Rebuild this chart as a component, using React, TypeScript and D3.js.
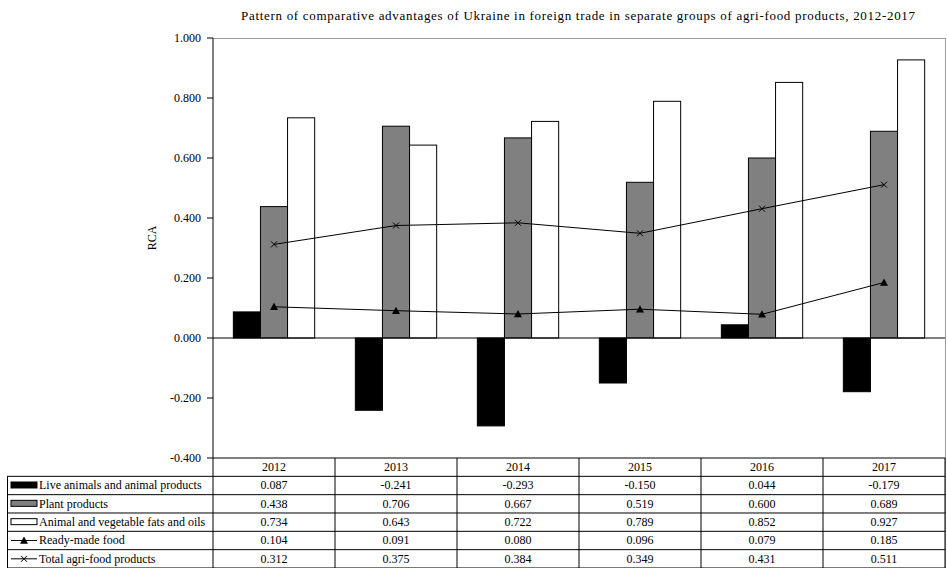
import React from "react";
import * as d3 from "d3";

const years = ["2012", "2013", "2014", "2015", "2016", "2017"];
const liveAnimals = [0.087, -0.241, -0.293, -0.15, 0.044, -0.179];
const plantProducts = [0.438, 0.706, 0.667, 0.519, 0.6, 0.689];
const fatsOils = [0.734, 0.643, 0.722, 0.789, 0.852, 0.927];
const readyMade = [0.104, 0.091, 0.08, 0.096, 0.079, 0.185];
const totalAgri = [0.312, 0.375, 0.384, 0.349, 0.431, 0.511];
const yTicks = [-0.4, -0.2, 0, 0.2, 0.4, 0.6, 0.8, 1.0];

const seriesNames = [
  "Live animals and animal products",
  "Plant products",
  "Animal and vegetable fats and oils",
  "Ready-made food",
  "Total agri-food products",
];

const W = 947;
const H = 568;
const FONT = "'Liberation Serif', 'DejaVu Serif', serif";
const fmt = (v: number) => d3.format(".3f")(v).replace("\u2212", "-");

export default function App() {
  const left = 213;
  const right = 945;
  const top = 38;
  const bottom = 458;
  const tableLeft = 7;
  const rowH = 18.33;

  const x = d3.scaleBand<string>().domain(years).range([left, right]).paddingInner(0).paddingOuter(0);
  const y = d3.scaleLinear().domain([-0.4, 1.0]).range([bottom, top]);
  const bw = x.bandwidth();
  const barW = bw / 4.5;
  const gap = (bw - 3 * barW) / 2;

  const barSeries = [
    { vals: liveAnimals, fill: "#000000" },
    { vals: plantProducts, fill: "#808080" },
    { vals: fatsOils, fill: "#ffffff" },
  ];

  const cx = (i: number) => (x(years[i]) as number) + bw / 2;
  const line = d3
    .line<number>()
    .x((_, i) => cx(i))
    .y((d) => y(d));

  const tri = (px: number, py: number, s = 4) =>
    `M${px},${py - s}L${px + s},${py + s * 0.8}L${px - s},${py + s * 0.8}Z`;
  const cross = (px: number, py: number, s = 3) =>
    `M${px - s},${py - s}L${px + s},${py + s}M${px - s},${py + s}L${px + s},${py - s}`;

  const allRows = [liveAnimals, plantProducts, fatsOils, readyMade, totalAgri];
  const fs = 12;

  return (
    <svg width={W} height={H} style={{ position: "absolute", left: 0, top: 0 }} fontFamily={FONT}>
      <rect x={0} y={0} width={W} height={H} fill="#fff" />
      <text x={241} y={20} fontSize={13} fill="#000" textLength={674} lengthAdjust="spacing">
        Pattern of comparative advantages of Ukraine in foreign trade in separate groups of agri-food products, 2012-2017
      </text>
      {/* plot frame */}
      <line x1={left} x2={946} y1={top + 0.5} y2={top + 0.5} stroke="#999" strokeWidth={1} />
      <line x1={945.5} x2={945.5} y1={top} y2={H} stroke="#999" strokeWidth={1} />

      {/* bars */}
      {barSeries.map((s, si) =>
        s.vals.map((v, i) => {
          const bx = (x(years[i]) as number) + gap + si * barW;
          const y0 = y(0);
          const yv = y(v);
          return (
            <rect
              key={`b${si}-${i}`}
              x={bx}
              y={Math.min(y0, yv)}
              width={barW}
              height={Math.abs(yv - y0)}
              fill={s.fill}
              stroke="#000"
              strokeWidth={1}
            />
          );
        })
      )}

      {/* zero line */}
      <line x1={left} x2={right} y1={y(0)} y2={y(0)} stroke="#000" strokeWidth={1} />

      {/* lines */}
      <path d={line(readyMade) || ""} fill="none" stroke="#000" strokeWidth={1} />
      {readyMade.map((v, i) => (
        <path key={`t${i}`} d={tri(cx(i), y(v))} fill="#000" />
      ))}
      <path d={line(totalAgri) || ""} fill="none" stroke="#000" strokeWidth={1} />
      {totalAgri.map((v, i) => (
        <path key={`c${i}`} d={cross(cx(i), y(v))} fill="none" stroke="#000" strokeWidth={1} />
      ))}

      {/* y axis */}
      <line x1={left} x2={left} y1={top} y2={H} stroke="#000" strokeWidth={1} />
      {yTicks.map((t) => (
        <g key={`yt${t}`}>
          <line x1={left - 6} x2={left} y1={y(t)} y2={y(t)} stroke="#000" strokeWidth={1} />
          <text x={201} y={y(t) + 4} textAnchor="end" fontSize={fs} fill="#000">
            {fmt(t)}
          </text>
        </g>
      ))}
      <text
        transform={`translate(156,${(top + bottom) / 2 - 10}) rotate(-90)`}
        textAnchor="middle"
        fontSize={fs}
        fill="#000"
      >
        RCA
      </text>

      {/* table header row */}
      {years.map((yr, i) => (
        <text key={`h${yr}`} x={cx(i)} y={bottom + rowH / 2 + 4} textAnchor="middle" fontSize={fs} fill="#000">
          {yr}
        </text>
      ))}
      <line x1={left} x2={right} y1={bottom} y2={bottom} stroke="#000" strokeWidth={1} />
      {d3.range(1, 7).map((r) => (
        <line
          key={`hl${r}`}
          x1={tableLeft}
          x2={right}
          y1={bottom + r * rowH}
          y2={bottom + r * rowH}
          stroke="#000"
          strokeWidth={1}
        />
      ))}
      <line x1={tableLeft + 0.5} x2={tableLeft + 0.5} y1={bottom + rowH} y2={H} stroke="#000" strokeWidth={1} />
      {years.map((yr) => (
        <line
          key={`vl${yr}`}
          x1={(x(yr) as number) + bw}
          x2={(x(yr) as number) + bw}
          y1={bottom}
          y2={H}
          stroke="#000"
          strokeWidth={1}
        />
      ))}
      {allRows.map((vals, r) => {
        const rowY = bottom + (r + 1) * rowH;
        const my = rowY + rowH / 2;
        const kx0 = 11;
        const kx1 = 37;
        let key: React.ReactNode = null;
        if (r < 3) {
          key = (
            <rect
              x={kx0}
              y={my - 3.5}
              width={kx1 - kx0}
              height={6}
              fill={barSeries[r].fill}
              stroke="#000"
              strokeWidth={1}
            />
          );
        } else if (r === 3) {
          key = (
            <g>
              <line x1={kx0} x2={kx1} y1={my} y2={my} stroke="#000" strokeWidth={1} />
              <path d={tri((kx0 + kx1) / 2, my)} fill="#000" />
            </g>
          );
        } else {
          key = (
            <g>
              <line x1={kx0} x2={kx1} y1={my} y2={my} stroke="#000" strokeWidth={1} />
              <path d={cross((kx0 + kx1) / 2, my)} fill="none" stroke="#000" strokeWidth={1} />
            </g>
          );
        }
        return (
          <g key={`row${r}`}>
            {key}
            <text x={39} y={my + 4} fontSize={fs} fill="#000">
              {seriesNames[r]}
            </text>
            {vals.map((v, i) => (
              <text key={`v${r}-${i}`} x={cx(i)} y={my + 4} textAnchor="middle" fontSize={fs} fill="#000">
                {fmt(v)}
              </text>
            ))}
          </g>
        );
      })}
    </svg>
  );
}
